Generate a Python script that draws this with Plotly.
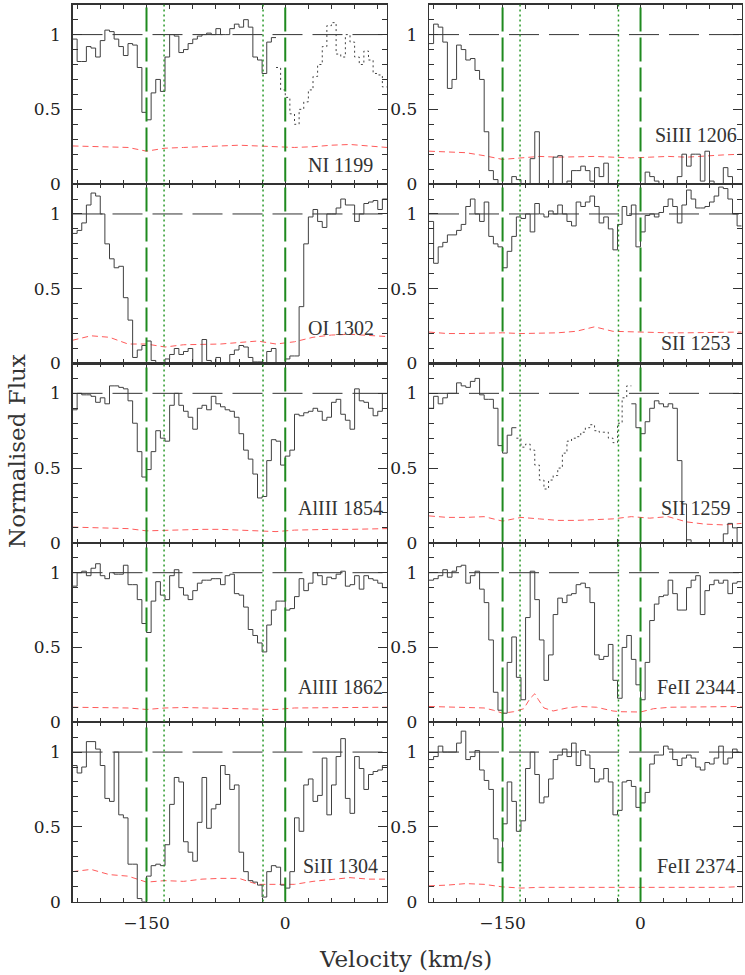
import plotly.graph_objects as go

# ---------------- data ----------------
VEL_MIN, VEL_MAX, VEL_STEP = -230, 110, 5
vel_edges = list(range(VEL_MIN, VEL_MAX + 1, VEL_STEP))   # bin edges (km/s)

ion_labels = ["NI 1199", "SiIII 1206", "OI 1302", "SII 1253", "AlIII 1854",
              "SII 1259", "AlIII 1862", "FeII 2344", "SiII 1304", "FeII 2374"]

flux_NI1199 = [0.97, 0.82, 0.82, 0.92, 0.91, 0.85, 0.96, 1.03, 1.02, 0.97,
               0.92, 0.86, 0.94, 0.93, 0.78, 0.48, 0.43, 0.61, 0.70, 0.62,
               0.85, 1.00, 0.99, 0.88, 0.90, 0.94, 0.97, 0.99, 1.00, 1.01,
               1.00, 1.04, 1.00, 1.00, 1.04, 1.07, 1.05, 1.10, 1.05, 0.85,
               0.83, 0.74, 0.95, 0.98, 0.78, 0.63, 0.58, 0.47, 0.40, 0.50,
               0.55, 0.63, 0.72, 0.80, 0.92, 1.06, 1.08, 0.87, 0.85, 1.00,
               0.95, 0.85, 0.80, 0.89, 0.83, 0.74, 0.73, 0.65]
flux_SiIII1206 = [0.94, 1.07, 1.05, 0.95, 0.64, 0.70, 0.93, 0.90, 0.83, 0.84,
                  0.76, 0.70, 0.35, 0.09, 0.03, 0.00, 0.00, 0.00, 0.05, 0.03,
                  0.00, 0.00, 0.17, 0.35, 0.00, 0.00, 0.00, 0.18, 0.19, 0.00,
                  0.02, 0.09, 0.09, 0.12, 0.09, 0.02, 0.11, 0.05, 0.14, 0.00,
                  0.00, 0.00, 0.00, 0.00, 0.00, 0.00, 0.00, 0.08, 0.05, 0.02,
                  0.00, 0.00, 0.00, 0.00, 0.05, 0.20, 0.12, 0.20, 0.20, 0.02,
                  0.22, 0.02, 0.00, 0.00, 0.11, 0.05, 0.00, 0.00]
flux_OI1302 = [0.87, 0.89, 0.94, 1.06, 1.14, 1.12, 1.00, 0.80, 0.70, 0.64,
               0.65, 0.44, 0.29, 0.04, 0.09, 0.12, 0.15, 0.02, 0.00, 0.00,
               0.03, 0.06, 0.10, 0.06, 0.08, 0.10, 0.00, 0.00, 0.16, 0.02,
               0.00, 0.04, 0.00, 0.00, 0.06, 0.09, 0.12, 0.11, 0.04, 0.01,
               0.01, 0.00, 0.08, 0.10, 0.00, 0.00, 0.03, 0.05, 0.05, 0.38,
               0.80, 0.98, 1.03, 0.95, 0.91, 1.00, 1.00, 1.04, 1.10, 1.06,
               1.06, 0.95, 1.00, 1.07, 1.08, 1.09, 1.03, 1.10]
flux_SII1253 = [0.95, 0.67, 0.78, 0.81, 0.86, 0.86, 0.89, 0.93, 1.05, 1.10,
                1.00, 0.95, 1.08, 0.85, 0.80, 0.78, 0.64, 0.75, 0.85, 0.98,
                0.97, 1.00, 0.88, 1.07, 1.00, 0.98, 1.02, 1.00, 1.06, 1.00,
                0.95, 0.92, 1.08, 1.05, 1.08, 1.12, 1.05, 0.94, 0.98, 0.90,
                0.76, 0.93, 1.05, 0.99, 1.06, 0.78, 0.88, 0.99, 1.00, 0.98,
                1.01, 1.05, 1.10, 1.05, 0.94, 1.06, 1.16, 1.10, 1.04, 1.04,
                1.05, 1.08, 1.12, 1.18, 1.17, 1.10, 1.00, 0.92]
flux_AlIII1854 = [0.89, 1.00, 0.99, 0.99, 0.98, 0.94, 0.97, 0.93, 1.05, 1.05,
                  1.04, 1.03, 0.95, 0.80, 0.61, 0.44, 0.49, 0.61, 0.75, 0.70,
                  0.68, 0.92, 1.00, 0.92, 0.88, 0.84, 0.76, 0.90, 0.92, 0.89,
                  0.98, 0.93, 0.91, 0.89, 0.88, 0.84, 0.73, 0.62, 0.56, 0.46,
                  0.30, 0.31, 0.55, 0.69, 0.68, 0.52, 0.58, 0.62, 0.86, 0.85,
                  0.87, 0.88, 0.90, 0.88, 0.82, 0.84, 0.94, 0.96, 0.86, 0.82,
                  0.76, 1.03, 0.95, 0.94, 0.90, 0.85, 0.88, 1.00]
flux_SII1259 = [0.90, 0.98, 0.93, 0.97, 1.00, 1.00, 1.07, 1.05, 1.04, 1.08,
                1.10, 0.99, 0.96, 0.96, 0.90, 0.65, 0.60, 0.72, 0.77, 0.70,
                0.64, 0.66, 0.62, 0.52, 0.42, 0.36, 0.42, 0.45, 0.50, 0.60,
                0.68, 0.70, 0.71, 0.74, 0.77, 0.79, 0.75, 0.74, 0.74, 0.70,
                0.67, 0.80, 0.97, 1.05, 0.93, 0.77, 0.73, 0.81, 0.90, 0.95,
                0.93, 0.91, 0.93, 0.90, 0.55, 0.26, 0.02, 0.00, 0.00, 0.00,
                0.00, 0.00, 0.00, 0.00, 0.06, 0.13, 0.10, 0.00]
flux_AlIII1862 = [0.91, 1.00, 1.01, 0.98, 1.03, 1.06, 0.98, 0.96, 1.00, 0.99,
                  0.99, 1.05, 0.92, 0.92, 0.82, 0.66, 0.60, 0.81, 0.94, 0.85,
                  0.82, 0.98, 1.02, 0.90, 0.85, 0.82, 0.88, 0.93, 0.95, 0.95,
                  0.96, 0.96, 0.92, 0.98, 0.99, 0.86, 0.85, 0.77, 0.62, 0.58,
                  0.53, 0.47, 0.65, 0.75, 0.81, 0.81, 0.75, 0.76, 0.84, 0.96,
                  0.88, 0.93, 1.00, 0.98, 0.92, 0.97, 0.96, 0.99, 1.01, 0.91,
                  0.92, 0.98, 0.89, 0.98, 0.96, 0.95, 0.93, 0.90]
flux_FeII2344 = [0.95, 0.96, 0.98, 1.02, 0.97, 1.01, 1.04, 1.05, 0.93, 0.98,
                 1.01, 0.89, 0.80, 0.55, 0.20, 0.08, 0.06, 0.40, 0.57, 0.30,
                 0.15, 0.70, 1.01, 0.82, 0.55, 0.28, 0.45, 0.72, 0.83, 0.80,
                 0.85, 0.86, 0.92, 0.93, 0.90, 0.80, 0.45, 0.42, 0.44, 0.52,
                 0.28, 0.16, 0.50, 0.58, 0.42, 0.25, 0.15, 0.40, 0.68, 0.79,
                 0.84, 0.85, 0.95, 0.86, 0.75, 0.75, 0.90, 0.95, 0.98, 0.72,
                 0.88, 0.92, 0.95, 0.93, 0.95, 0.86, 0.93, 0.94]
flux_SiII1304 = [0.91, 0.86, 0.90, 1.07, 1.07, 1.02, 0.91, 0.69, 0.67, 1.00,
                 0.58, 0.56, 0.25, 0.25, 0.02, 0.00, 0.17, 0.24, 0.25, 0.24,
                 0.38, 0.65, 0.83, 0.80, 0.40, 0.33, 0.27, 0.53, 0.83, 0.49,
                 0.62, 0.65, 0.91, 0.85, 0.75, 0.78, 0.33, 0.20, 0.14, 0.13,
                 0.11, 0.03, 0.20, 0.24, 0.23, 0.11, 0.09, 0.20, 0.56, 0.47,
                 0.78, 0.82, 0.67, 0.71, 0.96, 0.58, 0.78, 0.97, 1.09, 0.69,
                 0.59, 0.97, 0.89, 0.75, 0.85, 0.87, 0.88, 0.91]
flux_FeII2374 = [0.95, 0.97, 1.04, 1.00, 1.00, 1.00, 1.06, 1.14, 0.95, 0.97,
                 1.01, 0.88, 0.81, 0.75, 0.42, 0.26, 0.52, 0.80, 0.67, 0.47,
                 0.54, 0.89, 1.00, 0.85, 0.66, 0.70, 0.82, 0.95, 0.98, 1.02,
                 0.97, 1.06, 0.91, 1.01, 0.98, 0.89, 0.80, 0.82, 0.89, 0.80,
                 0.58, 0.61, 0.80, 0.81, 0.77, 0.63, 0.66, 0.73, 0.92, 0.98,
                 0.98, 1.04, 1.02, 0.95, 0.91, 0.96, 0.98, 0.96, 0.90, 0.88,
                 0.93, 0.92, 0.96, 1.04, 0.92, 0.96, 1.02, 1.00]

fluxes = [flux_NI1199, flux_SiIII1206, flux_OI1302, flux_SII1253, flux_AlIII1854,
          flux_SII1259, flux_AlIII1862, flux_FeII2344, flux_SiII1304, flux_FeII2374]

# bins blended with other lines (drawn dotted): (first bin, end bin)
blended_bins = {"NI 1199": (44, 68), "SII 1259": (19, 44)}

# error spectra
err_vel = [-230, -210, -190, -170, -150, -130, -110, -90, -70, -50, -30, -10,
           10, 30, 50, 70, 90, 110]
err_NI1199 = [0.255, 0.25, 0.25, 0.245, 0.22, 0.24, 0.245, 0.25, 0.255, 0.26, 0.255, 0.25,
              0.245, 0.25, 0.26, 0.265, 0.255, 0.245]
err_SiIII1206 = [0.22, 0.215, 0.21, 0.19, 0.165, 0.175, 0.185, 0.18, 0.185, 0.185, 0.18, 0.175,
                 0.18, 0.185, 0.18, 0.19, 0.195, 0.20]
err_OI1302 = [0.155, 0.185, 0.175, 0.13, 0.13, 0.11, 0.125, 0.13, 0.13, 0.14, 0.15, 0.13,
              0.145, 0.175, 0.19, 0.195, 0.185, 0.18]
err_SII1253 = [0.21, 0.20, 0.20, 0.205, 0.205, 0.20, 0.20, 0.205, 0.215, 0.245, 0.215, 0.21,
               0.21, 0.205, 0.205, 0.205, 0.21, 0.21]
err_AlIII1854 = [0.105, 0.10, 0.10, 0.095, 0.08, 0.085, 0.09, 0.09, 0.09, 0.085, 0.075, 0.075,
                 0.085, 0.09, 0.09, 0.09, 0.095, 0.095]
err_SII1259 = [0.18, 0.17, 0.17, 0.175, 0.145, 0.17, 0.16, 0.15, 0.15, 0.155, 0.16, 0.175,
               0.165, 0.175, 0.14, 0.125, 0.12, 0.13]
err_AlIII1862 = [0.10, 0.098, 0.098, 0.095, 0.085, 0.095, 0.098, 0.095, 0.095, 0.092, 0.085, 0.085,
                 0.095, 0.097, 0.097, 0.098, 0.10, 0.10]
err_vel_FeII2344 = [-230, -210, -190, -170, -160, -150, -138, -127, -120, -115, -111, -105,
                    -95, -80, -66, -48, -30, -22, 0, 14, 32, 61, 79, 110]
err_FeII2344 = [0.105, 0.10, 0.10, 0.095, 0.08, 0.06, 0.07, 0.09, 0.16, 0.19, 0.15, 0.095,
                0.075, 0.095, 0.105, 0.10, 0.075, 0.07, 0.068, 0.09, 0.10, 0.10, 0.10, 0.105]
err_SiII1304 = [0.20, 0.215, 0.18, 0.17, 0.13, 0.14, 0.135, 0.15, 0.155, 0.155, 0.115, 0.115,
                0.115, 0.135, 0.15, 0.16, 0.15, 0.15]
err_FeII2374 = [0.105, 0.11, 0.12, 0.115, 0.098, 0.09, 0.095, 0.095, 0.095, 0.095, 0.09, 0.09,
                0.09, 0.095, 0.095, 0.095, 0.095, 0.10]

errors = [(err_vel, err_NI1199), (err_vel, err_SiIII1206), (err_vel, err_OI1302),
          (err_vel, err_SII1253), (err_vel, err_AlIII1854), (err_vel, err_SII1259),
          (err_vel, err_AlIII1862), (err_vel_FeII2344, err_FeII2344),
          (err_vel, err_SiII1304), (err_vel, err_FeII2374)]

# velocity components
comp_main = [-150, 0]       # dashed
comp_sub = [-131, -24]      # dotted
continuum_level = 1.0

# label heights (in flux units) inside each panel
label_flux = [0.13, 0.33, 0.24, 0.135, 0.235, 0.235, 0.235, 0.235, 0.235, 0.235]
label_vel = 60

# ---------------- layout geometry ----------------
W, H_REF = 745, 975          # target picture size
H = 987                      # page height (photographed page is resized to H_REF)
SY = H / H_REF
col_px = [(72.5, 387.0), (429.0, 741.7)]
top_px, row_h = 4.7, 179.0
FONT = "DejaVu Serif"
LFONT = "Liberation Serif"
SPEC = "#404040"
AXC = "#333333"
GREEN = "#1f8a1f"
RED = "#ff5a5a"

def py(px):
    """paper y fraction for a pixel row in the target picture"""
    return 1 - px * SY / H

fig = go.Figure()
layout = dict(width=W, height=H, autosize=False, margin=dict(l=0, r=0, t=0, b=0),
              paper_bgcolor="white", plot_bgcolor="white", showlegend=False)
shapes, annotations = [], []

def ydom(r):
    t = top_px + r * row_h
    return [py(t + row_h), py(t)]

for p, (lab, fl) in enumerate(zip(ion_labels, fluxes)):
    r, c = divmod(p, 2)
    n = p + 1
    xs = "x" if n == 1 else f"x{n}"
    ys = "y" if n == 1 else f"y{n}"
    segs = []
    if lab in blended_bins:
        a, b = blended_bins[lab]
        if a > 0:
            segs.append((0, a, "solid"))
        segs.append((a, b, "dot"))
        if b < len(fl):
            segs.append((b, len(fl), "solid"))
    else:
        segs.append((0, len(fl), "solid"))
    ev, ef = errors[p]
    fig.add_trace(go.Scatter(x=ev, y=ef, mode="lines", xaxis=xs, yaxis=ys,
                             line=dict(color=RED, width=1, dash="6px,4px"),
                             hoverinfo="skip"))
    for a, b, style in segs:
        xv = vel_edges[a:b + 1]
        yv = fl[a:b] + [fl[b - 1]]
        fig.add_trace(go.Scatter(x=xv, y=yv, mode="lines", xaxis=xs, yaxis=ys,
                                 line=dict(color=SPEC, width=1, shape="hv",
                                           dash="solid" if style == "solid" else "2px,3px"),
                                 hoverinfo="skip"))
    xd = [col_px[c][0] / W, col_px[c][1] / W]
    xkey = "xaxis" if n == 1 else f"xaxis{n}"
    ykey = "yaxis" if n == 1 else f"yaxis{n}"
    layout[xkey] = dict(domain=xd, anchor=ys, range=[VEL_MIN, VEL_MAX],
                        tickmode="array", tickvals=[-150, 0],
                        ticks="inside", ticklen=8, tickwidth=1, tickcolor=AXC,
                        minor=dict(tickmode="linear", tick0=0, dtick=25, ticks="inside",
                                   ticklen=4, tickwidth=1, tickcolor=AXC),
                        showline=True, linecolor=AXC, linewidth=1.3, mirror="ticks",
                        showgrid=False, zeroline=False,
                        showticklabels=(r == 4), ticklabelstandoff=6,
                        tickfont=dict(family=FONT, size=17, color="#222"))
    layout[ykey] = dict(domain=ydom(r), anchor=xs, range=[0, 1.2],
                        tickmode="array", tickvals=[0, 0.5, 1], ticktext=["0", "0.5", "1"],
                        ticks="inside", ticklen=9, tickwidth=1, tickcolor=AXC,
                        minor=dict(tickmode="linear", tick0=0, dtick=0.1, ticks="inside",
                                   ticklen=5, tickwidth=1, tickcolor=AXC),
                        showline=True, linecolor=AXC, linewidth=1.3, mirror="ticks",
                        showgrid=False, zeroline=False, ticklabelstandoff=7,
                        tickfont=dict(family=FONT, size=17, color="#222"))
    shapes.append(dict(type="line", xref=f"{xs} domain", yref=ys, x0=0, x1=1,
                       y0=continuum_level, y1=continuum_level, layer="below",
                       line=dict(color="#333", width=1, dash="30px,10px")))
    annotations.append(dict(text=lab, xref=xs, yref=ys, x=label_vel, y=label_flux[p],
                            xanchor="center", yanchor="middle", showarrow=False,
                            font=dict(family=LFONT, size=20, color="#333")))

# component markers spanning the whole column
y_bot, y_top = ydom(4)[0], ydom(0)[1]
for c, xs in enumerate(["x", "x2"]):
    for v in comp_main:
        shapes.append(dict(type="line", xref=xs, yref="paper", x0=v, x1=v, y0=y_bot, y1=y_top,
                           line=dict(color=GREEN, width=2, dash="24px,6px")))
    for v in comp_sub:
        shapes.append(dict(type="line", xref=xs, yref="paper", x0=v, x1=v, y0=y_bot, y1=y_top,
                           line=dict(color="#2a9a2a", width=1.5, dash="2px,3px")))

annotations.append(dict(text="Normalised Flux", xref="paper", yref="paper",
                        x=17 / W, y=py(450), textangle=-90, showarrow=False,
                        xanchor="center", yanchor="middle",
                        font=dict(family=FONT, size=23, color="#333")))
annotations.append(dict(text="Velocity (km/s)", xref="paper", yref="paper",
                        x=405 / W, y=py(957), showarrow=False,
                        xanchor="center", yanchor="middle",
                        font=dict(family=FONT, size=23, color="#333")))

layout["shapes"] = shapes
layout["annotations"] = annotations
fig.update_layout(**layout)
fig.write_html("out.html",
               config={"responsive": False, "displayModeBar": False, "staticPlot": True},
               post_script=("document.body.style.margin='0';"
                            "document.body.style.overflow='hidden';"))
